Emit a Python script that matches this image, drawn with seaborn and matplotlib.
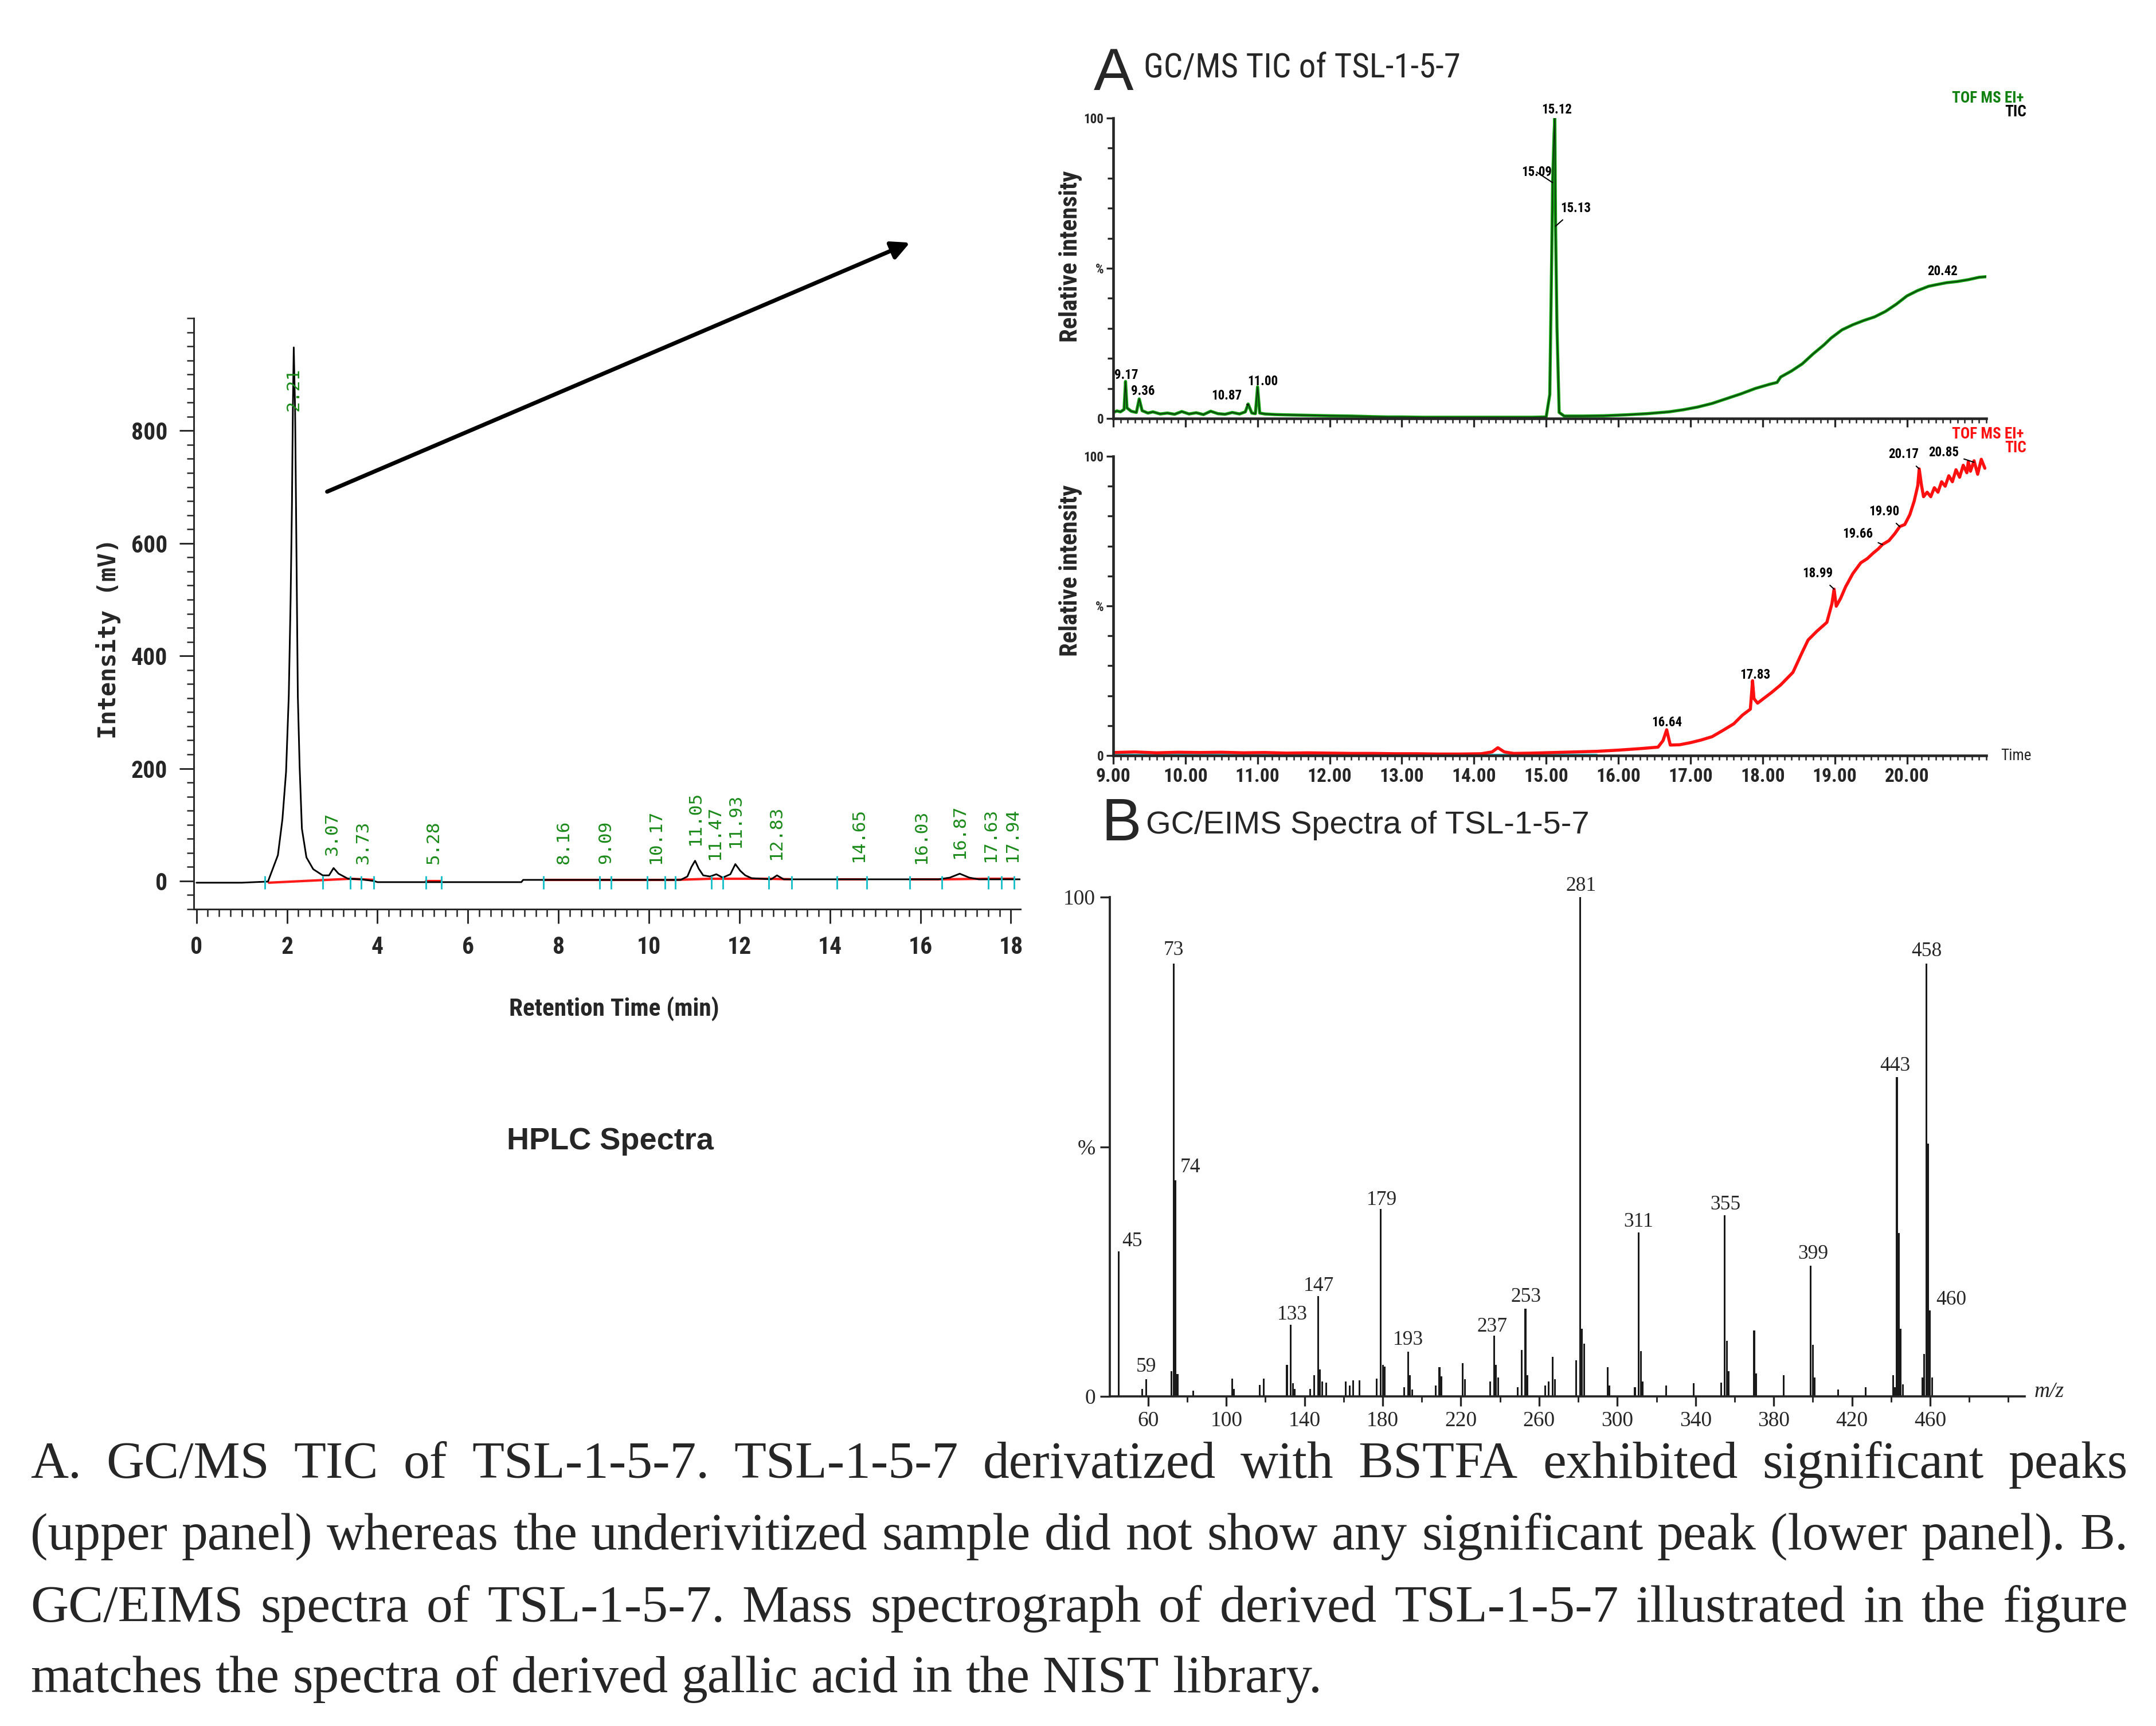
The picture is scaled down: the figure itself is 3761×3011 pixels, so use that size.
import matplotlib
matplotlib.use('Agg')
import matplotlib.pyplot as plt
import matplotlib.ticker as mticker
from matplotlib.patches import FancyArrowPatch
import seaborn as sns

# ---------------- data ----------------
# HPLC chromatogram (retention time in min, intensity in mV)
hplc_time = [0.00, 1.00, 1.58, 1.80, 1.90, 1.98, 2.04, 2.08, 2.11, 2.13, 2.15, 2.18, 2.21, 2.24,
             2.28, 2.33, 2.43, 2.58, 2.79, 2.93, 3.03, 3.14, 3.35, 3.64, 3.92, 4.00, 5.00, 6.00,
             7.18, 7.22, 8.50, 10.00, 10.70, 10.85, 10.94, 11.02, 11.10, 11.20, 11.35, 11.49,
             11.63, 11.80, 11.91, 12.02, 12.13, 12.27, 12.70, 12.83, 12.98, 14.00, 15.00, 16.40,
             16.65, 16.87, 17.08, 17.29, 18.21]
hplc_mv = [-3, -3, -1, 46, 110, 194, 329, 498, 667, 836, 948, 836, 583, 329,
           203, 93, 42, 21, 10, 10, 23, 13, 4, 3, 0, -2, -2, -2,
           -2, 2, 2, 2, 2, 8, 25, 36, 22, 10, 8, 12,
           6, 12, 30, 18, 10, 5, 3, 10, 3, 3, 3, 3,
           6, 13, 6, 3, 3]
hplc_peak_labels = ['2.21', '3.07', '3.73', '5.28', '8.16', '9.09', '10.17', '11.05', '11.47',
                    '11.93', '12.83', '14.65', '16.03', '16.87', '17.63', '17.94']
hplc_peak_x = [2.14, 3.00, 3.68, 5.24, 8.12, 9.04, 10.15, 11.02, 11.45,
               11.91, 12.81, 14.63, 16.02, 16.87, 17.55, 18.03]
hplc_label_y = [835, 46, 30, 30, 30, 30, 30, 63, 38, 59, 38, 34, 30, 40, 34, 34]
hplc_marks = [1.51, 2.79, 3.40, 3.64, 3.92, 5.07, 5.41, 7.67, 8.91, 9.17, 9.96, 10.36, 10.58,
              11.38, 11.63, 12.65, 13.16, 14.15, 14.82, 15.76, 16.47, 17.50, 17.79, 18.07]
base_start = [1.60, 3.40, 5.07, 7.67, 8.91, 9.17, 9.96, 10.58, 11.38, 11.63, 12.65, 14.15, 15.76, 16.47, 17.50, 17.79]
base_end = [3.40, 3.92, 5.41, 8.91, 9.17, 9.96, 10.58, 11.38, 11.63, 12.65, 13.16, 14.82, 16.47, 17.50, 17.79, 18.07]
base_y0 = [-3, 4, 0, 2, 2, 2, 2, 2, 4, 4, 4, 3, 3, 3, 4, 4]
base_y1 = [4, 2, 0, 2, 2, 2, 2, 4, 4, 4, 3, 3, 3, 4, 4, 4]

# GC/MS TIC, derivatized (upper panel)
tic_d_time = [9.00, 9.05, 9.10, 9.15, 9.17, 9.19, 9.25, 9.32, 9.36, 9.40, 9.48, 9.55, 9.65, 9.75,
              9.85, 9.95, 10.05, 10.15, 10.25, 10.35, 10.45, 10.55, 10.65, 10.75, 10.83, 10.87,
              10.92, 10.97, 11.00, 11.03, 11.10, 11.25, 11.40, 11.60, 11.80, 12.00, 12.30, 12.60,
              12.80, 13.00, 13.30, 13.60, 13.90, 14.20, 14.50, 14.80, 15.00, 15.05, 15.08, 15.09,
              15.11, 15.12, 15.125, 15.13, 15.15, 15.18, 15.25, 15.50, 15.80, 16.10, 16.40, 16.70,
              16.90, 17.10, 17.30, 17.50, 17.70, 17.90, 18.10, 18.20, 18.25, 18.40, 18.55, 18.70,
              18.85, 18.95, 19.10, 19.25, 19.40, 19.55, 19.70, 19.85, 20.00, 20.15, 20.30, 20.42,
              20.55, 20.70, 20.85, 21.00, 21.10]
tic_d_int = [2.0, 2.5, 2.2, 3.0, 12.3, 3.5, 2.4, 2.0, 6.5, 2.6, 1.8, 2.2, 1.5, 1.8,
             1.4, 2.3, 1.5, 1.9, 1.3, 2.4, 1.6, 1.4, 2.0, 1.5, 2.2, 4.8,
             1.8, 1.6, 10.5, 1.8, 1.5, 1.3, 1.2, 1.1, 1.0, 0.9, 0.8, 0.6,
             0.5, 0.5, 0.4, 0.4, 0.4, 0.4, 0.4, 0.4, 0.5, 8.0, 60.0, 79.0,
             95.0, 100.0, 80.0, 64.0, 30.0, 2.0, 0.8, 0.8, 0.9, 1.2, 1.6, 2.2,
             2.9, 3.8, 5.0, 6.6, 8.2, 10.0, 11.4, 12.0, 13.8, 15.8, 18.2, 21.5,
             24.5, 26.8, 29.5, 31.2, 32.6, 33.8, 35.6, 38.0, 40.8, 42.6, 44.0, 44.6,
             45.2, 45.6, 46.2, 47.0, 47.2]

# GC/MS TIC, underivatized (lower panel)
tic_u_time = [9.00, 9.30, 9.60, 9.90, 10.20, 10.50, 10.80, 11.10, 11.40, 11.70, 12.00, 12.30,
              12.60, 12.90, 13.20, 13.50, 13.80, 14.10, 14.25, 14.33, 14.42, 14.55, 14.80, 15.10,
              15.40, 15.70, 16.00, 16.30, 16.55, 16.62, 16.67, 16.72, 16.85, 17.00, 17.15, 17.30,
              17.45, 17.60, 17.72, 17.83, 17.86, 17.88, 17.93, 18.00, 18.12, 18.25, 18.42, 18.55,
              18.63, 18.75, 18.89, 18.96, 18.99, 19.02, 19.08, 19.15, 19.25, 19.36, 19.45, 19.53,
              19.60, 19.66, 19.75, 19.83, 19.90, 19.97, 20.04, 20.10, 20.15, 20.17, 20.20, 20.23,
              20.28, 20.33, 20.38, 20.43, 20.48, 20.53, 20.58, 20.63, 20.68, 20.73, 20.78, 20.83,
              20.85, 20.88, 20.93, 20.98, 21.03, 21.08]
tic_u_int = [1.0, 1.2, 0.9, 1.1, 1.0, 1.1, 0.9, 1.0, 0.8, 0.9, 0.8, 0.7,
             0.7, 0.6, 0.6, 0.5, 0.5, 0.6, 1.2, 2.6, 1.2, 0.7, 0.8, 1.0,
             1.2, 1.4, 1.8, 2.3, 2.8, 5.0, 8.6, 3.5, 3.6, 4.3, 5.2, 6.3,
             8.4, 10.6, 13.5, 15.5, 25.0, 19.0, 17.5, 18.8, 21.0, 23.6, 27.8, 34.6,
             38.6, 41.5, 44.5, 50.7, 55.6, 49.9, 52.5, 56.4, 60.8, 64.4, 65.8, 67.6,
             69.0, 70.5, 71.8, 74.1, 76.5, 77.2, 80.5, 85.0, 90.2, 95.8, 90.5, 86.5,
             88.0, 86.5, 89.5, 88.0, 91.5, 90.0, 93.5, 91.5, 95.5, 93.0, 97.0, 94.5,
             98.2, 95.0, 98.5, 94.0, 99.0, 96.0]

# EI mass spectrum (m/z, relative abundance %)
ms_mz = [45, 57, 59, 72, 73, 74, 75, 83, 103, 104, 117, 119, 131, 133, 134, 135, 143, 145, 147,
         148, 149, 151, 161, 163, 165, 168, 177, 179, 180, 181, 191, 193, 194, 195, 207, 209, 210,
         221, 222, 235, 237, 238, 239, 249, 251, 253, 254, 263, 265, 267, 268, 279, 281, 282, 283,
         295, 296, 309, 311, 312, 313, 325, 339, 353, 355, 356, 357, 370, 371, 385, 399, 400, 401,
         413, 427, 441, 442, 443, 444, 445, 446, 456, 457, 458, 459, 460, 461]
ms_int = [29.0, 1.5, 3.4, 5.0, 86.7, 43.3, 4.5, 1.2, 3.6, 1.5, 2.3, 3.6, 6.3, 14.4, 2.6, 1.5, 1.5, 4.2, 20.1,
          5.4, 3.0, 2.8, 3.0, 2.2, 3.2, 3.2, 3.6, 37.6, 6.3, 6.0, 1.8, 8.9, 4.2, 1.4, 2.2, 5.9, 4.0,
          6.7, 3.4, 3.0, 12.2, 6.3, 3.8, 1.8, 9.3, 17.6, 4.2, 2.2, 3.0, 7.9, 3.4, 7.2, 100.0, 13.6, 10.6,
          5.9, 2.2, 1.8, 32.8, 9.1, 3.0, 2.2, 2.6, 2.8, 36.3, 11.1, 5.0, 13.2, 4.6, 4.2, 26.2, 10.3, 3.8,
          1.4, 1.8, 4.2, 1.8, 64.0, 32.7, 13.6, 2.4, 3.8, 8.5, 86.7, 50.6, 17.2, 3.8]
ms_labels = ['45', '59', '73', '74', '133', '147', '179', '193', '237', '253', '281', '311',
             '355', '399', '443', '458', '460']
ms_label_x = [46.5, 59, 73, 76.5, 133.7, 147.2, 179.5, 193, 236, 253.3, 281.5, 310.8,
              355.3, 400, 442, 458.3, 463]
ms_label_y = [31.1, 5.9, 89.4, 45.9, 16.4, 22.1, 39.3, 11.3, 14.0, 19.9, 102.2, 35.0,
              38.4, 28.5, 66.2, 89.2, 19.4]

caption_lines = [
    "A. GC/MS TIC of TSL-1-5-7. TSL-1-5-7 derivatized with BSTFA exhibited significant peaks",
    "(upper panel) whereas the underivitized sample did not show any significant peak (lower panel). B.",
    "GC/EIMS spectra of TSL-1-5-7. Mass spectrograph of derived TSL-1-5-7 illustrated in the figure",
    "matches the spectra of derived gallic acid in the NIST library.",
]

# ---------------- style ----------------
sns.set_style('ticks')
plt.rcParams['font.family'] = ['Liberation Sans', 'DejaVu Sans']
NARROW = ['Roboto Condensed', 'Liberation Sans Narrow', 'Liberation Sans', 'DejaVu Sans']
MONO = ['DejaVu Sans Mono']
SERIF = ['Liberation Serif', 'DejaVu Serif']

W, H = 3761, 3011
fig = plt.figure(figsize=(W / 300, H / 300), dpi=300)
renderer = fig.canvas.get_renderer()


def box(x0, y0, x1, y1):
    # pixel box (top-left origin) -> figure fraction rect
    return [x0 / W, 1 - y1 / H, (x1 - x0) / W, (y1 - y0) / H]


def fit_width(t, px, vertical=False):
    # shrink/grow a text so its rendered length matches the reference
    bb = t.get_window_extent(renderer)
    size = bb.height if vertical else bb.width
    t.set_fontsize(t.get_fontsize() * px / size)


# ---------------- HPLC ----------------
ax1 = fig.add_axes(box(338, 555, 1780, 1586))
sns.lineplot(x=hplc_time, y=hplc_mv, ax=ax1, color='black', lw=0.7, sort=False, estimator=None)
for s, e, a, b in zip(base_start, base_end, base_y0, base_y1):
    ax1.plot([s, e], [a, b], color='#ff1a1a', lw=1.0, zorder=1)
ax1.vlines(hplc_marks, -14, 9, color='#19c0c8', lw=0.7, zorder=3)
for lab, x, y in zip(hplc_peak_labels, hplc_peak_x, hplc_label_y):
    ax1.text(x, y, lab, rotation=90, ha='center', va='bottom', color='#1a8a1a',
             family=MONO, fontsize=7.5)
ax1.set_xlim(-0.06, 18.21)
ax1.set_ylim(-50, 1000)
ax1.set_xticks(range(0, 19, 2))
ax1.set_yticks([0, 200, 400, 600, 800])
ax1.xaxis.set_minor_locator(mticker.MultipleLocator(0.25))
ax1.yaxis.set_minor_locator(mticker.MultipleLocator(25))
ax1.tick_params(which='major', length=6, width=0.7, labelsize=10, pad=5)
ax1.tick_params(which='minor', length=3, width=0.6)
for lab in ax1.get_xticklabels() + ax1.get_yticklabels():
    lab.set_family(NARROW)
    lab.set_fontweight('bold')
sns.despine(ax=ax1)
for sp in ax1.spines.values():
    sp.set_linewidth(0.7)
ax1.set_xlabel('')
ax1.set_ylabel('')
fig.text(189 / W, 1 - 1114 / H, 'Intensity (mV)', rotation=90, ha='center', va='center',
         family=MONO, fontsize=10, fontweight='bold')
xl = fig.text(1071 / W, 1 - 1760 / H, 'Retention Time (min)', ha='center', va='center',
              family=NARROW, fontsize=10, fontweight='bold')
fit_width(xl, 368)
fig.text(1064 / W, 1 - 1991 / H, 'HPLC Spectra', ha='center', va='center',
         fontsize=13, fontweight='bold')

fig.patches.append(FancyArrowPatch((563 / W, 1 - 861 / H), (1595 / W, 1 - 420 / H),
                                   transform=fig.transFigure, arrowstyle='-|>',
                                   mutation_scale=16, lw=1.7, color='black'))


# ---------------- GC/MS TIC panels ----------------
def tic_axes(rect, show_labels):
    ax = fig.add_axes(rect)
    ax.set_xlim(9.0, 21.1)
    ax.set_ylim(0, 100)
    ax.set_yticks([0, 50, 100])
    ax.set_yticklabels(['0', '%', '100'])
    ax.yaxis.set_minor_locator(mticker.MultipleLocator(10))
    ax.set_xticks(range(9, 21))
    ax.xaxis.set_minor_locator(mticker.MultipleLocator(0.1))
    ax.tick_params(axis='y', which='major', length=3, width=0.8, labelsize=5.5, pad=1)
    ax.tick_params(axis='y', which='minor', length=2.5, width=0.8)
    ax.tick_params(axis='x', which='major', length=3.5, width=0.8, labelsize=8, pad=1.5)
    ax.tick_params(axis='x', which='minor', length=2, width=0.6)
    if show_labels:
        ax.set_xticklabels(['%d.00' % v for v in range(9, 21)])
    else:
        ax.set_xticklabels([])
    for lab in ax.get_xticklabels() + ax.get_yticklabels():
        lab.set_family(NARROW)
        lab.set_fontweight('bold')
    sns.despine(ax=ax)
    for sp in ax.spines.values():
        sp.set_linewidth(1.1)
    ax.set_xlabel('')
    ax.set_ylabel('')
    return ax


ax2 = tic_axes(box(1942, 206, 3465, 730), False)
sns.lineplot(x=tic_d_time, y=tic_d_int, ax=ax2, color='#12a012', lw=1.3, sort=False, estimator=None)
sns.lineplot(x=tic_d_time, y=tic_d_int, ax=ax2, color='#103010', lw=0.4, sort=False, estimator=None)
ax2.set_xlabel('')
ax2.set_ylabel('')

pk = dict(fontsize=5.5, family=NARROW, fontweight='bold', color='black')
lead = dict(arrowstyle='-', lw=0.5, color='black', shrinkA=0, shrinkB=0)
ax2.text(15.15, 100.5, '15.12', ha='center', va='bottom', **pk)
ax2.annotate('15.09', xy=(15.09, 78.5), xytext=(15.08, 82), ha='right', va='center', arrowprops=lead, **pk)
ax2.annotate('15.13', xy=(15.13, 64), xytext=(15.2, 70), ha='left', va='center', arrowprops=lead, **pk)
ax2.text(9.18, 14.5, '9.17', ha='center', va='center', **pk)
ax2.text(9.25, 9.0, '9.36', ha='left', va='center', **pk)
ax2.annotate('10.87', xy=(10.87, 4.5), xytext=(10.78, 7.6), ha='right', va='center', arrowprops=lead, **pk)
ax2.text(11.07, 12.4, '11.00', ha='center', va='center', **pk)
ax2.text(20.49, 49.0, '20.42', ha='center', va='center', **pk)

ax3 = tic_axes(box(1942, 796, 3465, 1318), True)
sns.lineplot(x=tic_u_time, y=tic_u_int, ax=ax3, color='#ff1010', lw=1.3, sort=False, estimator=None)
ax3.plot([9.0, 15.7], [0.3, 0.3], color='#30c8d0', lw=0.8, zorder=1)
ax3.set_xlabel('')
ax3.set_ylabel('')
ax3.text(16.67, 11.1, '16.64', ha='center', va='center', **pk)
ax3.text(17.90, 27.0, '17.83', ha='center', va='center', **pk)
ax3.annotate('18.99', xy=(18.99, 55.6), xytext=(18.76, 60.8), ha='center', va='center', arrowprops=lead, **pk)
ax3.annotate('19.66', xy=(19.66, 70.5), xytext=(19.32, 74.1), ha='center', va='center', arrowprops=lead, **pk)
ax3.annotate('19.90', xy=(19.90, 76.5), xytext=(19.68, 81.5), ha='center', va='center', arrowprops=lead, **pk)
ax3.annotate('20.17', xy=(20.17, 95.8), xytext=(19.95, 100.6), ha='center', va='center', arrowprops=lead, **pk)
ax3.annotate('20.85', xy=(20.93, 98.0), xytext=(20.51, 101.3), ha='center', va='center', arrowprops=lead, **pk)

for yc in (447, 995):
    yl = fig.text(1868 / W, 1 - yc / H, 'Relative intensity', rotation=90, ha='center', va='center',
                  family=NARROW, fontsize=9.5, fontweight='bold')
    fit_width(yl, 300, vertical=True)
tof = dict(family=NARROW, fontsize=6.5, fontweight='bold', ha='right', va='baseline')
fig.text(3530 / W, 1 - 179 / H, 'TOF MS EI+', color='#108010', **tof)
fig.text(3535 / W, 1 - 203 / H, 'TIC', color='black', **tof)
fig.text(3530 / W, 1 - 765 / H, 'TOF MS EI+', color='#ff1010', **tof)
fig.text(3535 / W, 1 - 789 / H, 'TIC', color='#ff1010', **tof)
fig.text(3490 / W, 1 - 1318 / H, 'Time', family=NARROW, fontsize=6.5, ha='left', va='center')

fig.text(1908 / W, 1 - 157 / H, 'A', fontsize=25, ha='left', va='baseline')
title_a = fig.text(1995 / W, 1 - 135 / H, 'GC/MS TIC of TSL-1-5-7', family=NARROW, fontsize=13,
                   ha='left', va='baseline')
fit_width(title_a, 553)

# ---------------- GC/EIMS spectrum ----------------
ax4 = fig.add_axes(box(1936, 1565, 3532, 2436))
sns.barplot(x=ms_mz, y=ms_int, ax=ax4, native_scale=True, orient='x', width=0.9,
            color='#1a1a1a', linewidth=0, errorbar=None, saturation=1)
ax4.set_xlim(40.4, 508.4)
ax4.set_ylim(0, 100)
ax4.set_xticks(range(60, 461, 40))
ax4.xaxis.set_minor_locator(mticker.MultipleLocator(20))
ax4.set_yticks([0, 50, 100])
ax4.set_yticklabels(['0', '%', '100'])
ax4.tick_params(which='major', length=4, width=0.8, labelsize=9, pad=2)
ax4.tick_params(which='minor', length=2.5, width=0.7)
for lab in ax4.get_xticklabels() + ax4.get_yticklabels():
    lab.set_family(SERIF)
sns.despine(ax=ax4)
for sp in ax4.spines.values():
    sp.set_linewidth(0.9)
ax4.set_xlabel('')
ax4.set_ylabel('')
for lab, x, y in zip(ms_labels, ms_label_x, ms_label_y):
    ha = 'left' if lab in ('45', '74', '460') else 'center'
    ax4.text(x, y, lab, ha=ha, va='center', family=SERIF, fontsize=8.5, clip_on=False)
fig.text(3549 / W, 1 - 2428 / H, 'm/z', family=SERIF, style='italic', fontsize=9,
         ha='left', va='center')
fig.text(1921 / W, 1 - 1466 / H, 'B', fontsize=25, ha='left', va='baseline')
title_b = fig.text(1999 / W, 1 - 1454 / H, 'GC/EIMS Spectra of TSL-1-5-7', fontsize=13.5,
                   ha='left', va='baseline')
fit_width(title_b, 775)

# ---------------- justified caption ----------------
probe = fig.text(0, 0, caption_lines[1], family=SERIF, fontsize=20)
cap_fs = 20 * 3640 / probe.get_window_extent(renderer).width
probe.remove()
x_left, x_right = 53, 3712
baselines = [2578, 2703, 2829, 2952]
for i, (line, yb) in enumerate(zip(caption_lines, baselines)):
    words = line.split(' ')
    texts = [fig.text(0, 1 - yb / H, w, family=SERIF, fontsize=cap_fs, va='baseline')
             for w in words]
    widths = [t.get_window_extent(renderer).width for t in texts]
    if i < len(caption_lines) - 1:
        gap = (x_right - x_left - sum(widths)) / (len(words) - 1)
    else:
        sp = fig.text(0, 0, 'a a', family=SERIF, fontsize=cap_fs)
        sp2 = fig.text(0, 0, 'aa', family=SERIF, fontsize=cap_fs)
        gap = sp.get_window_extent(renderer).width - sp2.get_window_extent(renderer).width
        sp.remove()
        sp2.remove()
    pos = x_left
    for t, w in zip(texts, widths):
        t.set_x(pos / W)
        pos += w + gap

fig.savefig('out.png', dpi=300, facecolor='white')
